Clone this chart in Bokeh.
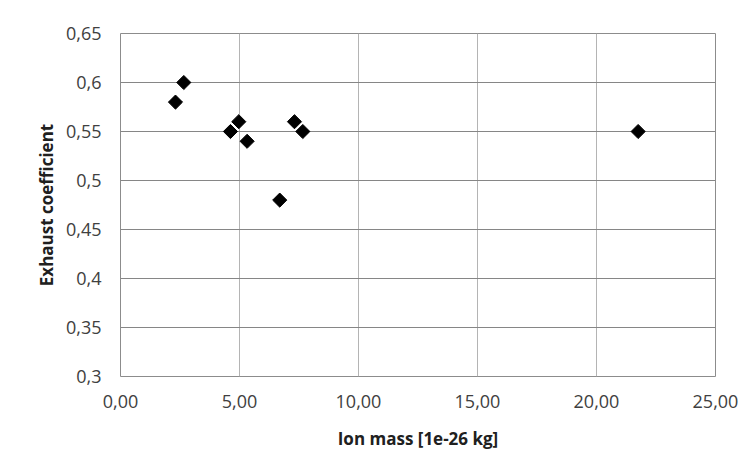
from bokeh.plotting import figure
from bokeh.models import Range1d, FixedTicker, ColumnDataSource
from bokeh.embed import file_html
from bokeh.resources import INLINE
import numpy as np

# Data
ion_mass = [2.31, 2.66, 4.62, 4.97, 5.32, 6.69, 7.31, 7.66, 21.75]
exhaust_coef = [0.58, 0.60, 0.55, 0.56, 0.54, 0.48, 0.56, 0.55, 0.55]

x_ticks = [0, 5, 10, 15, 20, 25]
x_tick_labels = ["0,00", "5,00", "10,00", "15,00", "20,00", "25,00"]
y_ticks = [0.3, 0.35, 0.4, 0.45, 0.5, 0.55, 0.6, 0.65]
y_tick_labels = ["0,3", "0,35", "0,4", "0,45", "0,5", "0,55", "0,6", "0,65"]

FONT = "Open Sans"

p = figure(width=739, height=456, output_backend="svg", toolbar_location=None,
           x_range=Range1d(0, 25), y_range=Range1d(0.3, 0.65),
           frame_width=595, frame_height=343,
           min_border_left=120, min_border_top=33, min_border_right=24,
           min_border_bottom=80)

p.background_fill_color = "white"
p.border_fill_color = "white"
p.outline_line_color = "#8c8c8c"
p.outline_line_width = 1

p.xaxis.ticker = FixedTicker(ticks=x_ticks)
p.yaxis.ticker = FixedTicker(ticks=y_ticks)
p.xaxis.major_label_overrides = {t: l for t, l in zip(x_ticks, x_tick_labels)}
p.yaxis.major_label_overrides = {t: l for t, l in zip(y_ticks, y_tick_labels)}

for ax in (p.xaxis, p.yaxis):
    ax.axis_line_color = None
    ax.major_tick_line_color = None
    ax.minor_tick_line_color = None
    ax.major_tick_out = 0
    ax.major_tick_in = 0
    ax.major_label_text_font = FONT
    ax.major_label_text_font_size = "18px"
    ax.major_label_text_color = "#404040"
    ax.axis_label_text_font = FONT
    ax.axis_label_text_font_size = "17px"
    ax.axis_label_text_font_style = "bold"
    ax.axis_label_text_color = "#202020"

p.xaxis.major_label_standoff = 18
p.yaxis.major_label_standoff = 19
p.xaxis.axis_label = "Ion mass [1e-26 kg]"
p.yaxis.axis_label = "Exhaust coefficient"
p.xaxis.axis_label_standoff = 16
p.yaxis.axis_label_standoff = 5

p.xgrid.grid_line_color = "#b4b4b4"
p.xgrid.grid_line_width = 1
p.ygrid.grid_line_color = "#868686"
p.ygrid.grid_line_width = 1

src = ColumnDataSource(dict(x=ion_mass, y=exhaust_coef))
p.scatter("x", "y", source=src, marker="square", size=10, angle=np.pi / 4,
          fill_color="black", line_color="black")

open("out.html", "w").write(file_html(p, INLINE))
